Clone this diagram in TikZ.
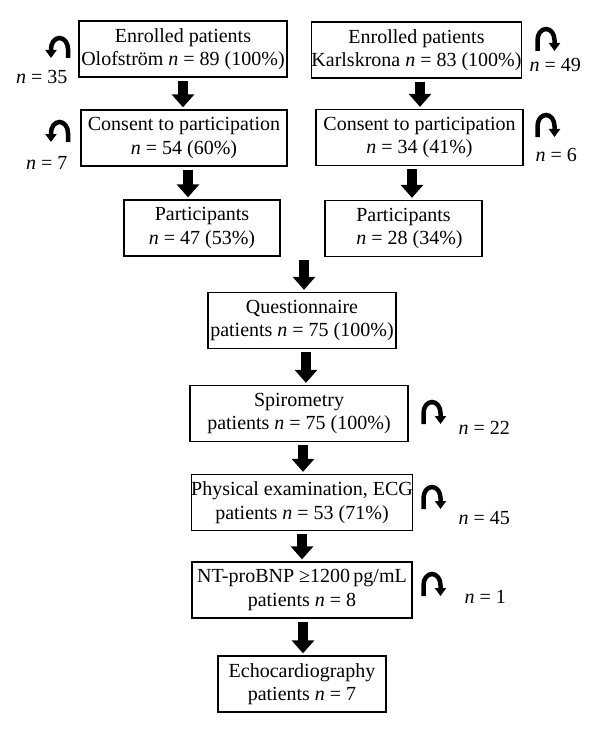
\documentclass[tikz,border=0pt]{standalone}
\usepackage{fontspec}
\setmainfont{Liberation Serif}
\usetikzlibrary{arrows.meta}

\begin{document}
\begin{tikzpicture}[x=1pt, y=-1pt, font=\fontsize{20}{23.5}\selectfont,
  box/.style={draw, line width=1.3pt, align=center, inner sep=0pt, minimum height=56pt},
  bigarrow/.style={line width=10pt, shorten <=3pt, shorten >=2pt, -{Triangle[width=22pt,length=13pt]}},
  turnarrow/.style={line width=4.5pt, -{Triangle[width=11pt,length=8pt]}}]

\useasboundingbox (0,0) rectangle (600,733);

% Olofstroem
\node[box, minimum width=208pt] (enrolA) at (183,49) {Enrolled patients\\Olofstr\"om \textit{n} = 89 (100\%)};
\node[box, minimum width=206pt] (consentA) at (184,138) {Consent to participation\\\textit{n} = 54 (60\%)};
\node[box, minimum width=156pt] (partA) at (202,228) {Participants\\\textit{n} = 47 (53\%)};

% Karlskrona
\node[box, minimum width=207pt] (enrolB) at (416.5,50) {Enrolled patients\\Karlskrona \textit{n} = 83 (100\%)};
\node[box, minimum width=207pt] (consentB) at (419.5,137.5) {Consent to participation\\\textit{n} = 34 (41\%)};
\node[box, minimum width=157pt] (partB) at (403.5,228.5) {Participants\\\hspace*{12pt}\textit{n} = 28 (34\%)};

% gemeinsamer Ablauf
\node[box, minimum width=188pt] (quest) at (302,320.5) {Questionnaire\\patients \textit{n} = 75 (100\%)};
\node[box, minimum width=218pt] (spiro) at (299,413.5) {Spirometry\\patients \textit{n} = 75 (100\%)};
\node[box, minimum width=220pt] (phys) at (302,502.5) {Physical examination, ECG\\patients \textit{n} = 53 (71\%)};
\node[box, minimum width=220pt] (ntpro) at (302,590) {NT-proBNP ≥1200\,pg/mL\\patients \textit{n} = 8};
\node[box, minimum width=168pt] (echo) at (302,684) {Echocardiography\\patients \textit{n} = 7};

% Pfeile
\draw[bigarrow] (enrolA.south) -- (enrolA.south |- consentA.north);
\draw[bigarrow] ([xshift=4pt]consentA.south) -- ([xshift=4pt]consentA.south |- partA.north);
\draw[bigarrow] ([xshift=3.5pt]enrolB.south) -- ([xshift=3.5pt]enrolB.south |- consentB.north);
\draw[bigarrow] ([xshift=-7.5pt]consentB.south) -- ([xshift=-7.5pt]consentB.south |- partB.north);
\coordinate (merge) at (304,257);
\draw[bigarrow] (merge) -- (merge |- quest.north);
\draw[bigarrow] ([xshift=4pt]quest.south) -- ([xshift=4pt]quest.south |- spiro.north);
\draw[bigarrow] ([xshift=4pt]spiro.south) -- ([xshift=4pt]spiro.south |- phys.north);
\draw[bigarrow] (phys.south) -- (phys.south |- ntpro.north);
\draw[bigarrow] ([xshift=1pt]ntpro.south) -- ([xshift=1pt]ntpro.south |- echo.north);

% Ausfaelle
\node[anchor=east] (lossA1) at (71,77) {\textit{n} = 35};
\node[anchor=east] (lossA2) at (71,163) {\textit{n} = 7};
\node[anchor=west] (lossB1) at (526,65) {\textit{n} = 49};
\node[anchor=west] (lossB2) at (532,155) {\textit{n} = 6};
\node[anchor=west] (loss1) at (455,428) {\textit{n} = 22};
\node[anchor=west] (loss2) at (455,518) {\textit{n} = 45};
\node[anchor=west] (loss3) at (461,597) {\textit{n} = 1};

% Rueckpfeile links
\foreach \y in {49,133} {
    \draw[turnarrow] (68,\y+9) -- (68,\y) arc[start angle=0, end angle=180, x radius=8.5pt, y radius=11pt] -- (51,\y+9);
}
% Rueckpfeile rechts
\foreach \x/\y in {537.5/40, 537.5/126, 423.5/413, 423.5/498, 423.5/585} {
    \draw[turnarrow] (\x,\y+11) -- (\x,\y) arc[start angle=180, end angle=0, x radius=8.5pt, y radius=11pt] -- (\x+17,\y+11);
}

\end{tikzpicture}
\end{document}
